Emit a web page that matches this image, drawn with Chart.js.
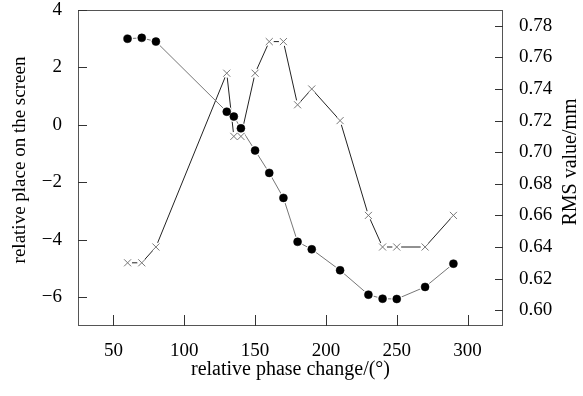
<!DOCTYPE html>
<html>
<head>
<meta charset="utf-8">
<script src="https://cdn.jsdelivr.net/npm/chart.js@4/dist/chart.umd.min.js"></script>
<style>
html,body{margin:0;padding:0;background:#fff;}
#wrap{width:583px;height:396px;}
</style>
</head>
<body>
<div id="wrap"><canvas id="c" width="583" height="396"></canvas></div>
<script>
// ---- data ----
const phase = [60, 70, 80, 130, 135, 140, 150, 160, 170, 180, 190, 210, 230, 240, 250, 270, 290];
const place = [3.0, 3.03, 2.9, 0.46, 0.29, -0.12, -0.89, -1.67, -2.54, -4.07, -4.33, -5.06, -5.91, -6.05, -6.06, -5.64, -4.83];
const rms   = [0.63, 0.63, 0.64, 0.75, 0.71, 0.71, 0.75, 0.77, 0.77, 0.73, 0.74, 0.72, 0.66, 0.64, 0.64, 0.64, 0.66];
const xTicks = [50, 100, 150, 200, 250, 300];
const yTicks = [-6, -4, -2, 0, 2, 4];
const y2Ticks = [0.60, 0.62, 0.64, 0.66, 0.68, 0.70, 0.72, 0.74, 0.76, 0.78];
const xTitle = 'relative phase change/(°)';
const yTitle = 'relative place on the screen';
const y2Title = 'RMS value/mm';

const FONT = '"Liberation Serif", "Times New Roman", serif';
const placePts = phase.map((p, i) => ({x: p, y: place[i]}));
const rmsPts = phase.map((p, i) => ({x: p, y: rms[i]}));

const framePlugin = {
  id: 'frame',
  beforeDatasetsDraw(chart) {
    const {ctx, chartArea: a, scales} = chart;
    ctx.save();
    ctx.strokeStyle = '#555';
    ctx.lineWidth = 1;
    ctx.strokeRect(a.left + 0.5, a.top + 0.5, a.right - a.left - 1, a.bottom - a.top - 1);
    ctx.strokeStyle = '#333';
    ctx.beginPath();
    scales.x.ticks.forEach(t => {
      const px = Math.round(scales.x.getPixelForValue(t.value)) + 0.5;
      ctx.moveTo(px, a.bottom); ctx.lineTo(px, a.bottom - 11);
    });
    scales.y.ticks.forEach(t => {
      const py = Math.round(scales.y.getPixelForValue(t.value)) + 0.5;
      ctx.moveTo(a.left, py); ctx.lineTo(a.left + 9, py);
    });
    scales.y2.ticks.forEach(t => {
      const py = Math.round(scales.y2.getPixelForValue(t.value)) + 0.5;
      ctx.moveTo(a.right, py); ctx.lineTo(a.right - 8, py);
    });
    ctx.stroke();
    ctx.restore();
  },
  afterDraw(chart) {
    const {ctx} = chart;
    ctx.save();
    ctx.fillStyle = '#000';
    ctx.font = '19px ' + FONT;
    ctx.textAlign = 'center';
    ctx.textBaseline = 'middle';
    ctx.translate(20, 160);
    ctx.rotate(-Math.PI / 2);
    ctx.fillText(yTitle, 0, 0);
    ctx.restore();
    ctx.save();
    ctx.fillStyle = '#000';
    ctx.font = '20px ' + FONT;
    ctx.textAlign = 'center';
    ctx.textBaseline = 'middle';
    ctx.translate(571, 162);
    ctx.rotate(-Math.PI / 2);
    ctx.fillText(y2Title, 0, 0);
    ctx.restore();
  }
};

function fitY(width) {
  return s => { s.width = width; s.paddingTop = 0; s.paddingBottom = 0; };
}

new Chart(document.getElementById('c'), {
  type: 'scatter',
  data: {
    datasets: [
      {data: placePts, yAxisID: 'y', showLine: true, pointRadius: 0, borderColor: '#666', borderWidth: 0.9, order: 10},
      {data: rmsPts, yAxisID: 'y2', showLine: true, pointRadius: 0, borderColor: '#222', borderWidth: 1, order: 10},
      {data: placePts, yAxisID: 'y', showLine: false, pointRadius: 5.5, pointBackgroundColor: '#fff', pointBorderWidth: 0, pointBorderColor: '#fff', order: 5},
      {data: rmsPts, yAxisID: 'y2', showLine: false, pointRadius: 4.5, pointBackgroundColor: '#fff', pointBorderWidth: 0, pointBorderColor: '#fff', order: 5},
      {data: placePts, yAxisID: 'y', showLine: false, pointRadius: 4, pointBackgroundColor: '#000', pointBorderColor: '#000', pointBorderWidth: 0.5, order: 1},
      {data: rmsPts, yAxisID: 'y2', showLine: false, pointStyle: 'crossRot', pointRadius: 5, pointBorderColor: '#777', pointBorderWidth: 1, order: 1}
    ]
  },
  options: {
    responsive: false,
    animation: false,
    layout: {padding: {top: 10, left: 0, right: 0, bottom: 0}},
    plugins: {legend: {display: false}, tooltip: {enabled: false}},
    scales: {
      x: {
        type: 'linear', min: 25, max: 325,
        afterBuildTicks: s => { s.ticks = xTicks.map(v => ({value: v})); },
        afterFit: s => { s.height = 70; s.paddingLeft = 0; s.paddingRight = 0; },
        grid: {display: false, drawTicks: false},
        border: {display: false},
        ticks: {color: '#000', font: {family: FONT, size: 19}, padding: 14, maxRotation: 0},
        title: {display: true, text: xTitle, color: '#000', font: {family: FONT, size: 20}, padding: {top: 0, bottom: 14}}
      },
      y: {
        type: 'linear', position: 'left', min: -7, max: 4,
        afterBuildTicks: s => { s.ticks = yTicks.map(v => ({value: v})); },
        afterFit: fitY(78),
        grid: {display: false, drawTicks: false},
        border: {display: false},
        ticks: {color: '#000', font: {family: FONT, size: 19}, padding: 16,
          callback: v => (v < 0 ? '\u2212' + Math.abs(v) : String(v))}
      },
      y2: {
        type: 'linear', position: 'right', min: 0.59, max: 0.79,
        afterBuildTicks: s => { s.ticks = y2Ticks.map(v => ({value: v})); },
        afterFit: fitY(80),
        grid: {display: false, drawTicks: false},
        border: {display: false},
        ticks: {color: '#000', font: {family: FONT, size: 19}, padding: 16,
          callback: v => Number(v).toFixed(2)}
      }
    }
  },
  plugins: [framePlugin]
});
</script>
</body>
</html>
